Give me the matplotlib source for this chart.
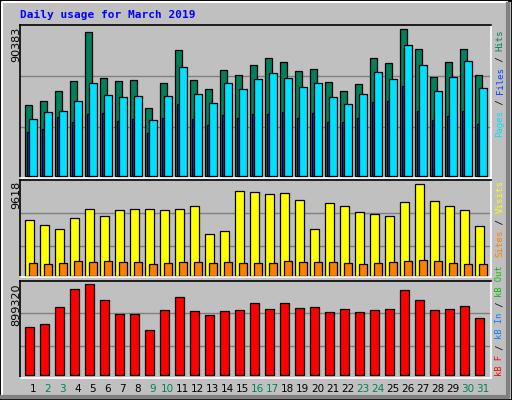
import matplotlib
matplotlib.use('Agg')
import matplotlib.pyplot as plt
from matplotlib.patches import Rectangle
from matplotlib.lines import Line2D

days = list(range(1, 32))
weekends = [2, 3, 9, 10, 16, 17, 23, 24, 30, 31]

hits = [43652, 46111, 52259, 58407, 88535, 60252, 58407, 59022, 41807, 57178, 77468,
        59022, 53490, 65171, 62097, 68246, 72550, 70090, 64556, 65786, 57793, 52259,
        56564, 72550, 69476, 90383, 78082, 60868, 70090, 78082, 62097]
files = [35044, 39348, 39963, 46111, 57178, 49800, 48571, 49185, 34430, 49185, 67014,
         50415, 44881, 57178, 53490, 59637, 63326, 60252, 54718, 57178, 48571, 44267,
         50415, 63941, 59637, 80541, 68244, 52259, 60868, 70704, 54104]
pages = [27052, 28896, 36274, 33200, 38119, 38733, 33815, 35044, 26437, 35659, 44267,
         35044, 31356, 37504, 35659, 38119, 38119, 39348, 35659, 38733, 33200, 33200,
         35659, 45497, 46111, 55334, 39963, 34430, 36889, 39963, 31971]
visits = [5841, 5316, 5001, 6050, 6995, 6260, 6890, 6995, 6995, 6890, 6995, 7310, 4477,
          4791, 8884, 8779, 8569, 8674, 7939, 5001, 7624, 7310, 6680, 6470, 6260, 7729,
          9618, 7834, 7310, 6890, 5211]
sites = [1434, 1329, 1434, 1644, 1539, 1644, 1539, 1539, 1329, 1434, 1539, 1539, 1434,
         1539, 1434, 1434, 1434, 1644, 1539, 1539, 1539, 1434, 1329, 1434, 1539, 1644,
         1749, 1644, 1434, 1329, 1329]
kbytes = [474365, 504012, 672017, 849904, 899320, 741195, 602839, 602839, 444717, 642369,
          770843, 632486, 592956, 632486, 642369, 711547, 652252, 711547, 662134, 672017,
          622604, 652252, 622604, 642369, 652252, 840021, 741195, 642369, 652252, 681899,
          563308]

BG = '#C0C0C0'
W, H = 512, 400
fig = plt.figure(figsize=(W / 100, H / 100), dpi=100, facecolor=BG)
mono = 'DejaVu Sans Mono'


def px_axes(x0, y0, x1, y1):
    ax = fig.add_axes([x0 / W, 1 - y1 / H, (x1 - x0) / W, (y1 - y0) / H])
    ax.set_facecolor(BG)
    ax.set_xticks([])
    ax.set_yticks([])
    for s in ['top', 'left']:
        ax.spines[s].set_color('black')
    for s in ['bottom', 'right']:
        ax.spines[s].set_color('white')
    for s in ax.spines.values():
        s.set_linewidth(1.2)
    ax.set_xlim(0, 31.4)
    return ax


def grid(ax, vals):
    for v in vals:
        ax.axhline(v, color='#808080', lw=1, zorder=0)


x = [d - 1 for d in days]
kw = dict(align='edge', edgecolor='black', linewidth=0.9)

# top panel
ax1 = px_axes(20, 25, 491, 178)
u = max(hits) / 147
ax1.set_ylim(-2 * u, 151 * u)
grid(ax1, [49 * u, 100 * u])
ax1.bar([i + 0.33 for i in x], hits, 0.47, color='#00805C', **kw)
ax1.bar([i + 0.47 for i in x], pages, 0.13, color='#0040FF', zorder=3, **kw)
ax1.bar([i + 0.6 for i in x], files, 0.53, color='#00E0FF', zorder=4, **kw)

# middle panel
ax2 = px_axes(20, 180, 491, 277)
u = max(visits) / 275
ax2.set_ylim(-2 * u, 288 * u)
grid(ax2, [90 * u, 188 * u])
ax2.bar([i + 0.33 for i in x], visits, 0.6, color='#FFFF00', **kw)
ax2.bar([i + 0.6 for i in x], sites, 0.53, color='#FF8000', **kw)

# bottom panel
ax3 = px_axes(20, 281, 491, 378)
u = max(kbytes) / 273
ax3.set_ylim(-9 * u, 283 * u)
grid(ax3, [87 * u, 186 * u])
ax3.bar([i + 0.33 for i in x], kbytes, 0.6, color='#FF0000', **kw)

# day labels
for d in days:
    fig.text((20 + (d - 1 + 0.85) * 15) / W, 1 - 389 / H, str(d),
             ha='center', va='center', fontsize=7.5,
             color='#00805C' if d in weekends else 'black')

# max labels
fig.text(16 / W, 1 - 27 / H, str(max(hits)), rotation=90, ha='center', va='top', fontsize=8)
fig.text(16 / W, 1 - 181 / H, str(max(visits)), rotation=90, ha='center', va='top', fontsize=8)
fig.text(16 / W, 1 - 283 / H, str(max(kbytes)), rotation=90, ha='center', va='top', fontsize=8)

# title
fig.text(20 / W, 1 - 15 / H, 'Daily usage for March 2019', color='#0000FF',
         fontfamily=mono, fontweight='bold', fontsize=8, va='center')


def vlabel(y_start, parts, cw=5.4):
    y = y_start
    fs = cw * 72 / 100 / 0.602
    for txt, col in parts:
        fig.text(500 / W, 1 - y / H, txt, rotation=90, ha='center', va='bottom',
                 color=col, fontfamily=mono, fontsize=fs)
        y -= cw * len(txt)


vlabel(137, [('Pages', '#00E0FF'), (' / ', 'black'), ('Files', '#0040FF'),
             (' / ', 'black'), ('Hits', '#00805C')])
vlabel(257, [('Sites', '#FF8000'), (' / ', 'black'), ('Visits', '#FFFF00')], cw=5.5)
vlabel(376, [('kB F', '#FF0000'), (' / ', 'black'), ('kB In', '#0080FF'),
             (' / ', 'black'), ('kB Out', '#00C000')], cw=5.3)

# outer frame
fig.patches.append(Rectangle((0, 0), 1, 1, transform=fig.transFigure, fill=False,
                             edgecolor='black', lw=2))
fig.lines.append(Line2D([2 / W, 2 / W, 507 / W], [3 / H, 1 - 2 / H, 1 - 2 / H],
                        transform=fig.transFigure, color='white', lw=1.5))
fig.lines.append(Line2D([2 / W, 508 / W, 508 / W], [3 / H, 3 / H, 1 - 4 / H],
                        transform=fig.transFigure, color='#808080', lw=3))

fig.savefig('out.png', dpi=100, facecolor=BG)
